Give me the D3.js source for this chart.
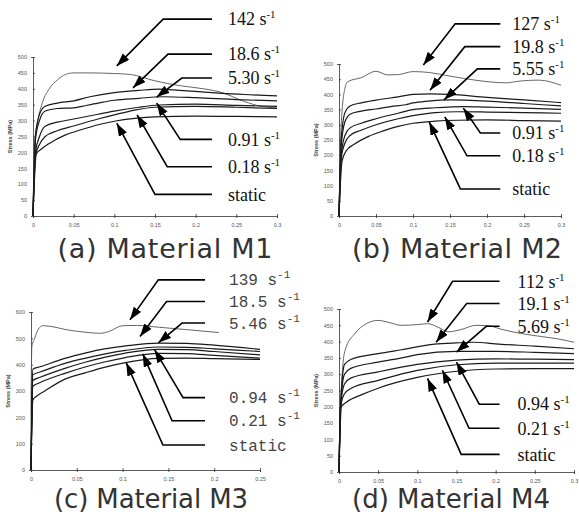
<!DOCTYPE html>
<html>
<head>
<meta charset="utf-8">
<script src="https://cdn.jsdelivr.net/npm/d3@7"></script>
<style>
    body { margin: 0; background: #fff; }
    svg { display: block; }
    .tick text { font-family: 'Liberation Sans', Arial, sans-serif; font-size: 5.5px; fill: #555; }
    .tick line, .domain { stroke: #333; stroke-width: 0.8; }
</style>
</head>
<body>
<div id="chart"></div>
<script>
'use strict';
// stress-strain curves: [strain, stress MPa]
const seriesM1 = [
    { rate: '142', pts: [[0,0],[0.002,230],[0.006,300],[0.012,360],[0.02,400],[0.03,428],[0.04,445],[0.05,450],[0.07,450],[0.1,448],[0.12,445],[0.15,425],[0.18,410],[0.21,400],[0.23,390],[0.26,360],[0.28,345],[0.3,340]] },
    { rate: '18.6', pts: [[0,0],[0.003,250],[0.008,320],[0.015,345],[0.03,355],[0.05,362],[0.07,375],[0.1,388],[0.13,395],[0.155,399],[0.18,395],[0.22,388],[0.26,382],[0.3,378]] },
    { rate: '5.30', pts: [[0,0],[0.003,240],[0.008,300],[0.015,330],[0.03,338],[0.05,340],[0.06,345],[0.08,355],[0.1,364],[0.13,370],[0.16,375],[0.2,372],[0.25,366],[0.3,362]] },
    { rate: '0.91', pts: [[0,0],[0.003,200],[0.008,250],[0.015,282],[0.03,295],[0.05,305],[0.08,320],[0.1,330],[0.13,342],[0.155,349],[0.2,352],[0.25,348],[0.3,345]] },
    { rate: '0.18', pts: [[0,0],[0.003,190],[0.008,225],[0.015,250],[0.03,268],[0.05,283],[0.08,305],[0.1,318],[0.125,333],[0.15,342],[0.2,345],[0.25,342],[0.3,338]] },
    { rate: 'static', pts: [[0,0],[0.004,195],[0.01,210],[0.02,228],[0.04,255],[0.06,272],[0.08,287],[0.1,298],[0.125,307],[0.15,312],[0.2,314],[0.25,313],[0.3,312]] }
]
const seriesM2 = [
    { rate: '127', pts: [[0,0],[0.003,300],[0.008,420],[0.012,442],[0.03,455],[0.05,476],[0.066,464],[0.08,465],[0.1,475],[0.122,472],[0.15,460],[0.17,452],[0.2,442],[0.225,438],[0.245,444],[0.27,447],[0.3,430]] },
    { rate: '19.8', pts: [[0,0],[0.003,250],[0.008,340],[0.015,362],[0.03,372],[0.05,381],[0.08,392],[0.1,400],[0.125,402],[0.15,400],[0.2,390],[0.25,382],[0.3,373]] },
    { rate: '5.55', pts: [[0,0],[0.003,230],[0.008,310],[0.015,335],[0.03,345],[0.05,352],[0.07,360],[0.09,366],[0.1,372],[0.12,378],[0.15,382],[0.2,378],[0.25,370],[0.3,362]] },
    { rate: '0.91', pts: [[0,0],[0.003,200],[0.008,265],[0.015,290],[0.03,305],[0.05,320],[0.08,338],[0.1,350],[0.13,356],[0.17,360],[0.2,358],[0.25,355],[0.3,351]] },
    { rate: '0.18', pts: [[0,0],[0.003,190],[0.008,240],[0.015,265],[0.03,282],[0.05,300],[0.08,320],[0.1,330],[0.13,340],[0.16,343],[0.2,342],[0.25,340],[0.3,338]] },
    { rate: 'static', pts: [[0,0],[0.004,180],[0.01,215],[0.02,235],[0.04,262],[0.06,280],[0.08,295],[0.1,305],[0.13,312],[0.16,315],[0.2,316],[0.25,314],[0.3,312]] }
]
const seriesM3 = [
    { rate: '139', pts: [[0,0],[0,220],[0.001,470],[0.004,500],[0.008,535],[0.013,548],[0.02,546],[0.04,532],[0.06,523],[0.075,519],[0.085,526],[0.1,548],[0.115,549],[0.14,542],[0.17,533],[0.205,522]] },
    { rate: '18.5', pts: [[0,0],[0.002,383],[0.01,392],[0.037,424],[0.06,445],[0.08,460],[0.103,471],[0.139,482],[0.17,481],[0.2,474],[0.25,458]] },
    { rate: '5.46', pts: [[0,0],[0.002,362],[0.01,372],[0.037,405],[0.06,425],[0.08,440],[0.103,454],[0.139,467],[0.17,466],[0.2,460],[0.25,450]] },
    { rate: '0.94', pts: [[0,0],[0.002,340],[0.01,352],[0.037,386],[0.06,410],[0.08,428],[0.103,444],[0.139,458],[0.17,457],[0.2,450],[0.25,437]] },
    { rate: '0.21', pts: [[0,0],[0.002,318],[0.01,332],[0.037,367],[0.06,392],[0.08,410],[0.103,427],[0.139,443],[0.17,442],[0.2,435],[0.25,425]] },
    { rate: 'static', pts: [[0,0],[0.002,265],[0.006,280],[0.015,300],[0.037,345],[0.06,370],[0.08,390],[0.103,408],[0.139,424],[0.17,425],[0.2,423],[0.25,420]] }
]
const seriesM4 = [
    { rate: '112', pts: [[0,0],[0.002,200],[0.005,330],[0.008,375],[0.02,424],[0.035,455],[0.05,465],[0.065,458],[0.079,450],[0.1,452],[0.113,455],[0.13,440],[0.139,430],[0.156,437],[0.175,450],[0.19,449],[0.207,438],[0.232,425],[0.26,415],[0.28,408],[0.3,398]] },
    { rate: '19.1', pts: [[0,0],[0.002,200],[0.007,330],[0.015,345],[0.05,363],[0.08,375],[0.122,392],[0.15,396],[0.173,398],[0.2,393],[0.25,386],[0.3,378]] },
    { rate: '5.69', pts: [[0,0],[0.002,200],[0.007,300],[0.015,318],[0.05,337],[0.08,350],[0.1,360],[0.15,370],[0.2,370],[0.25,367],[0.3,363]] },
    { rate: '0.94', pts: [[0,0],[0.002,200],[0.007,270],[0.015,288],[0.05,307],[0.1,330],[0.15,343],[0.2,347],[0.25,346],[0.3,345]] },
    { rate: '0.21', pts: [[0,0],[0.002,200],[0.007,240],[0.015,256],[0.05,281],[0.1,312],[0.15,329],[0.2,334],[0.25,334],[0.3,334]] },
    { rate: 'static', pts: [[0,0],[0.003,200],[0.01,215],[0.03,238],[0.05,257],[0.1,290],[0.15,309],[0.2,316],[0.25,317],[0.3,317]] }
]
// arrow annotations: tip on the curve and the elbow of the leader, both in [strain, stress]
const arrowsM1 = [
    { rate: '142', tip: [0.103, 472], elbow: [0.160, 619] },
    { rate: '18.6', tip: [0.123, 403], elbow: [0.166, 509] },
    { rate: '5.30', tip: [0.152, 374], elbow: [0.183, 434] },
    { rate: '0.91', tip: [0.152, 355], elbow: [0.181, 241] },
    { rate: '0.18', tip: [0.128, 318], elbow: [0.165, 155] },
    { rate: 'static', tip: [0.103, 292], elbow: [0.150, 68] }
]
const arrowsM2 = [
    { rate: '127', tip: [0.114, 497], elbow: [0.157, 632] },
    { rate: '19.8', tip: [0.123, 414], elbow: [0.170, 557] },
    { rate: '5.55', tip: [0.142, 382], elbow: [0.187, 484] },
    { rate: '0.91', tip: [0.168, 355], elbow: [0.191, 273] },
    { rate: '0.18', tip: [0.143, 326], elbow: [0.173, 198] },
    { rate: 'static', tip: [0.122, 309], elbow: [0.164, 89] }
]
const arrowsM3 = [
    { rate: '139', tip: [0.108, 570], elbow: [0.139, 722] },
    { rate: '18.5', tip: [0.119, 507], elbow: [0.148, 640] },
    { rate: '5.46', tip: [0.139, 483], elbow: [0.165, 558] },
    { rate: '0.94', tip: [0.135, 456], elbow: [0.166, 275] },
    { rate: '0.21', tip: [0.122, 441], elbow: [0.154, 187] },
    { rate: 'static', tip: [0.104, 407], elbow: [0.144, 95] }
]
const arrowsM4 = [
    { rate: '112', tip: [0.113, 460], elbow: [0.145, 585] },
    { rate: '19.1', tip: [0.124, 398], elbow: [0.163, 517] },
    { rate: '5.69', tip: [0.150, 368], elbow: [0.188, 447] },
    { rate: '0.94', tip: [0.150, 337], elbow: [0.179, 208] },
    { rate: '0.21', tip: [0.132, 312], elbow: [0.166, 134] },
    { rate: 'static', tip: [0.113, 287], elbow: [0.156, 54] }
]
const strainTicks30 = [0, 0.05, 0.1, 0.15, 0.2, 0.25, 0.3]
const strainTicks25 = [0, 0.05, 0.1, 0.15, 0.2, 0.25]
const stressTicks500 = [0, 50, 100, 150, 200, 250, 300, 350, 400, 450, 500]
const stressTicks600 = [0, 100, 200, 300, 400, 500, 600]

const panels = [
    { title: '(a) Material M1', series: seriesM1, arrows: arrowsM1, xMax: 0.3, xTicks: strainTicks30, yMax: 500, yTicks: stressTicks500,
      xr: [33, 277], yr: [216, 57], lineEnd: 0.220, textGap: 16, font: "'Liberation Serif', serif", tColor: '#111', tSize: 18,
      titleX: 165, titleY: 258, titleW: 215, titleSize: 27 },
    { title: '(b) Material M2', series: seriesM2, arrows: arrowsM2, xMax: 0.3, xTicks: strainTicks30, yMax: 500, yTicks: stressTicks500,
      xr: [339, 561], yr: [216, 64], lineEnd: 0.218, textGap: 12, font: "'Liberation Serif', serif", tColor: '#111', tSize: 18,
      titleX: 457, titleY: 258, titleW: 210, titleSize: 27 },
    { title: '(c) Material M3', series: seriesM3, arrows: arrowsM3, xMax: 0.25, xTicks: strainTicks25, yMax: 600, yTicks: stressTicks600,
      xr: [31, 260], yr: [470, 312], lineEnd: 0.190, textGap: 24, font: "'Liberation Mono', monospace", tColor: '#444', tSize: 16,
      titleX: 151, titleY: 508, titleW: 194, titleSize: 26 },
    { title: '(d) Material M4', series: seriesM4, arrows: arrowsM4, xMax: 0.3, xTicks: strainTicks30, yMax: 500, yTicks: stressTicks500,
      xr: [339, 574], yr: [472, 309], lineEnd: 0.205, textGap: 18, font: "'Liberation Serif', serif", tColor: '#111', tSize: 18,
      titleX: 451, titleY: 508, titleW: 198, titleSize: 26 }
]

const svg = d3.select('#chart').append('svg')
    .attr('width', 579)
    .attr('height', 518)

svg.append('defs').append('marker')
    .attr('id', 'head')
    .attr('markerUnits', 'userSpaceOnUse')
    .attr('markerWidth', 14)
    .attr('markerHeight', 10)
    .attr('refX', 13)
    .attr('refY', 4.5)
    .attr('orient', 'auto')
    .append('path')
    .attr('d', 'M0,0 L13,4.5 L0,9 Z')
    .attr('fill', '#000')

panels.forEach(function(p) {
    const x = d3.scaleLinear().domain([0, p.xMax]).range(p.xr)
    const y = d3.scaleLinear().domain([0, p.yMax]).range(p.yr)
    const g = svg.append('g')

    const yAxis = g.append('g') // stress axis
        .attr('transform', `translate(${p.xr[0]},0)`)
        .call(d3.axisLeft(y).tickValues(p.yTicks).tickSize(2).tickPadding(4).tickFormat(d3.format('d')))
    yAxis.selectAll('.tick line').attr('x2', 2)
    const xAxis = g.append('g') // strain axis
        .attr('transform', `translate(0,${p.yr[0]})`)
        .call(d3.axisBottom(x).tickValues(p.xTicks).tickSize(2).tickPadding(5).tickFormat(function(d) { return String(d) }))
    xAxis.selectAll('.tick line').attr('y1', -2)

    g.append('text') // y axis label
        .attr('transform', `translate(${p.xr[0] - 21},${(p.yr[0] + p.yr[1]) / 2}) rotate(-90)`)
        .attr('text-anchor', 'middle')
        .style('font-family', "'Liberation Sans', Arial, sans-serif")
        .style('font-size', '5.5px')
        .style('font-weight', 'bold')
        .attr('fill', '#444')
        .text('Stress (MPa)')

    const line = d3.line()
        .x(function(d) { return x(d[0]) })
        .y(function(d) { return y(d[1]) })
        .curve(d3.curveMonotoneX)
    g.selectAll('.curve').data(p.series).enter().append('path') // stress-strain curves
        .attr('class', 'curve')
        .attr('fill', 'none')
        .attr('stroke', function(d, i) { return i === 0 ? '#555' : '#1a1a1a' })
        .attr('stroke-width', function(d, i) { return i === 0 ? 0.9 : 1.2 })
        .attr('d', function(d) { return line(d.pts) })

    const ann = g.selectAll('.ann').data(p.arrows).enter().append('g')
    ann.append('path') // leader with arrowhead
        .attr('fill', 'none')
        .attr('stroke', '#000')
        .attr('stroke-width', 1.6)
        .attr('marker-end', 'url(#head)')
        .attr('d', function(d) {
            return `M${x(p.lineEnd)},${y(d.elbow[1])} H${x(d.elbow[0])} L${x(d.tip[0])},${y(d.tip[1])}`
        })
    const label = ann.append('text') // strain rate label
        .attr('x', x(p.lineEnd) + p.textGap)
        .attr('y', function(d) { return y(d.elbow[1]) })
        .attr('dy', '0.35em')
        .style('font-family', p.font)
        .style('font-size', p.tSize + 'px')
        .attr('fill', p.tColor)
    label.append('tspan').text(function(d) { return d.rate === 'static' ? 'static' : d.rate + ' s' })
    label.filter(function(d) { return d.rate !== 'static' }).append('tspan')
        .attr('dy', -7)
        .style('font-size', '11px')
        .text('-1')

    g.append('text') // panel caption
        .attr('x', p.titleX)
        .attr('y', p.titleY)
        .attr('text-anchor', 'middle')
        .attr('textLength', p.titleW)
        .attr('lengthAdjust', 'spacing')
        .style('font-family', "'DejaVu Sans', sans-serif")
        .style('font-size', p.titleSize + 'px')
        .attr('fill', '#333')
        .text(p.title)
})
</script>
</body>
</html>
